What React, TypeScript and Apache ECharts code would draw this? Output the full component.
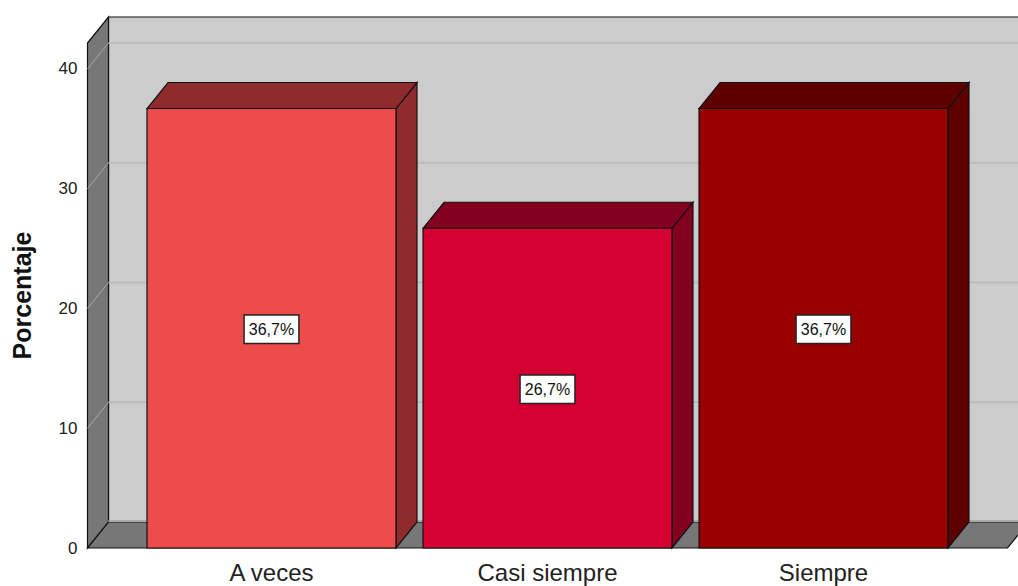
import React, { useEffect, useRef } from "react";
import * as echarts from "echarts";

const categories = ["A veces", "Casi siempre", "Siempre"];
const values = [36.7, 26.7, 36.7];
const valueLabels = ["36,7%", "26,7%", "36,7%"];
const frontColors = ["#EE4B4B", "#D50032", "#990000"];
const darkColors = ["#8E2B2D", "#840020", "#5C0000"];
const gridValues = [0, 10, 20, 30, 40];
const yMax = 42.17;

const DX = 21;
const DY = 26;

export default function App() {
  const ref = useRef<HTMLDivElement>(null);

  useEffect(() => {
    if (!ref.current) return;
    const chart = echarts.init(ref.current, null, { renderer: "svg" });

    const wallRender = (params: any, api: any) => {
      const cs = params.coordSys;
      const xl = cs.x;
      const xr = cs.x + cs.width;
      const yb = api.coord([0, 0])[1];
      const yt = api.coord([0, yMax])[1];
      const children: any[] = [];
      children.push({
        type: "rect",
        shape: { x: xl + DX, y: yt - DY, width: xr - xl + 40, height: yb - yt },
        style: { fill: "#CCCCCC", stroke: "#111", lineWidth: 1.2 },
      });
      children.push({
        type: "polygon",
        shape: { points: [[xl, yt], [xl + DX, yt - DY], [xl + DX, yb - DY], [xl, yb]] },
        style: { fill: "#777777", stroke: "#111", lineWidth: 1.2 },
      });
      gridValues.forEach((v) => {
        const y = api.coord([0, v])[1];
        if (v > 0) {
          children.push({
            type: "line",
            shape: { x1: xl + DX, y1: y - DY, x2: xr + DX + 40, y2: y - DY },
            style: { stroke: "#BBBBBB", lineWidth: 2 },
          });
        }
        children.push({
          type: "line",
          shape: { x1: xl, y1: y, x2: xl + DX, y2: y - DY },
          style: { stroke: "#AAAAAA", lineWidth: 1 },
        });
      });
      children.push({
        type: "polygon",
        shape: { points: [[xl, yb], [xl + DX, yb - DY], [xr + DX, yb - DY], [xr, yb]] },
        style: { fill: "#777777", stroke: "#111", lineWidth: 1.2 },
      });
      children.push({
        type: "line",
        shape: { x1: xl + DX, y1: yb - DY - 1, x2: xr + DX + 40, y2: yb - DY - 1 },
        style: { stroke: "#AAAAAA", lineWidth: 2 },
      });
      return { type: "group", children };
    };

    const barRender = (params: any, api: any) => {
      const idx = api.value(0);
      const val = api.value(1);
      const i = params.dataIndex;
      const [cx, yTop] = api.coord([idx, val]);
      const yBot = api.coord([idx, 0])[1];
      const w = api.size([0.902, 0])[0];
      const x0 = cx - w / 2;
      const x1 = cx + w / 2;
      const stroke = { stroke: "#111", lineWidth: 1.2 };
      return {
        type: "group",
        children: [
          {
            type: "polygon",
            shape: { points: [[x1, yTop], [x1 + DX, yTop - DY], [x1 + DX, yBot - DY], [x1, yBot]] },
            style: { fill: darkColors[i], ...stroke },
          },
          {
            type: "polygon",
            shape: { points: [[x0, yTop], [x0 + DX, yTop - DY], [x1 + DX, yTop - DY], [x1, yTop]] },
            style: { fill: darkColors[i], ...stroke },
          },
          {
            type: "rect",
            shape: { x: x0, y: yTop, width: w, height: yBot - yTop },
            style: { fill: frontColors[i], ...stroke },
          },
          {
            type: "text",
            x: cx,
            y: (yTop + yBot) / 2 + 1,
            style: {
              text: valueLabels[i],
              fill: "#111",
              font: '16px "Liberation Sans", Arial, sans-serif',
              align: "center",
              verticalAlign: "middle",
              backgroundColor: "#FFFFFF",
              borderColor: "#222",
              borderWidth: 1.5,
              padding: [6, 4, 5, 4],
            },
          },
          {
            type: "text",
            x: cx,
            y: yBot + 24,
            style: {
              text: categories[i],
              fill: "#222",
              font: '24px "Liberation Sans", Arial, sans-serif',
              align: "center",
              verticalAlign: "middle",
            },
          },
        ],
      };
    };

    chart.setOption({
      animation: false,
      grid: { left: 87.5, right: 10.5, top: 43, bottom: 38, containLabel: false },
      xAxis: { type: "value", min: -2 / 3, max: 8 / 3, show: false },
      yAxis: {
        type: "value",
        min: 0,
        max: yMax,
        interval: 10,
        name: "Porcentaje",
        nameLocation: "middle",
        nameGap: 53,
        nameTextStyle: {
          fontFamily: '"Liberation Sans", Arial, sans-serif',
          fontWeight: "bold",
          fontSize: 25,
          color: "#111",
        },
        axisLine: { show: false },
        axisTick: { show: false },
        splitLine: { show: false },
        axisLabel: {
          margin: 10,
          fontSize: 17,
          color: "#222",
          fontFamily: '"Liberation Sans", Arial, sans-serif',
          formatter: (v: number) => (Math.abs(v % 10) < 1e-6 ? String(v) : ""),
        },
      },
      series: [
        {
          type: "custom",
          renderItem: wallRender,
          data: [[0, 0]],
          z: 1,
          silent: true,
          clip: false,
        },
        {
          type: "custom",
          renderItem: barRender,
          data: values.map((v, i) => [i, v]),
          z: 2,
          clip: false,
        },
      ],
    });

    return () => chart.dispose();
  }, []);

  return (
    <div
      ref={ref}
      style={{ position: "absolute", left: 0, top: 0, width: 1018, height: 586 }}
    />
  );
}
